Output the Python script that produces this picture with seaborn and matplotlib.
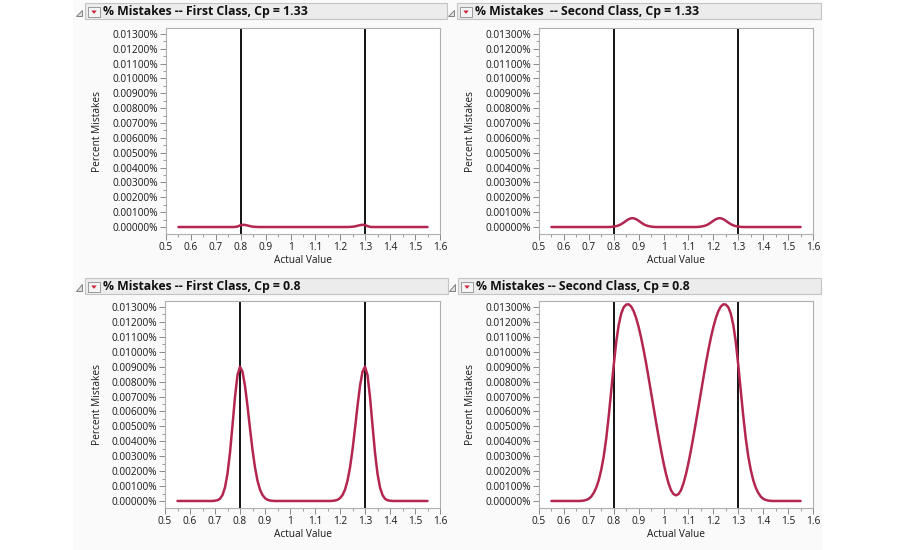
import numpy as np
import pandas as pd
import matplotlib
matplotlib.use("Agg")
import matplotlib.pyplot as plt
from matplotlib.patches import Rectangle, Polygon
from matplotlib.ticker import FuncFormatter, MultipleLocator
import seaborn as sns

# actual value grid, one sample every 0.01
actual_value = np.round(np.linspace(0.55, 1.55, 101), 2)

# percent mistakes, in units of 0.00001 %
first_cp133 = [0] * 10 + [0] * 10 + \
    [0, 0, 0, 1, 5, 13, 15, 13, 9, 5] + \
    [2, 1, 0, 0, 0, 0, 0, 0, 0, 0] + \
    [0] * 10 + [0] * 10 + \
    [0, 0, 0, 0, 0, 0, 0, 0, 0, 1] + \
    [2, 5, 9, 13, 15, 13, 5, 1, 0, 0] + \
    [0] * 10 + [0] * 10 + [0]

second_cp133 = [0] * 10 + [0] * 10 + \
    [0, 0, 0, 0, 1, 3, 6, 11, 19, 30] + \
    [42, 53, 59, 59, 53, 42, 30, 19, 11, 6] + \
    [3, 1, 0, 0, 0, 0, 0, 0, 0, 0] + \
    [0, 0, 0, 0, 0, 0, 0, 0, 0, 1] + \
    [3, 6, 11, 19, 30, 42, 53, 59, 59, 53] + \
    [42, 30, 19, 11, 6, 3, 1, 0, 0, 0] + \
    [0] * 10 + [0] * 10 + [0]

first_cp08 = [0] * 10 + \
    [0, 0, 0, 0, 0, 2, 5, 15, 40, 91] + \
    [183, 324, 507, 697, 844, 900, 866, 771, 636, 486] + \
    [343, 224, 136, 76, 40, 19, 8, 3, 1, 0] + \
    [0] * 10 + [0] * 10 + \
    [0, 0, 1, 3, 8, 19, 40, 76, 136, 224] + \
    [343, 486, 636, 771, 866, 900, 844, 697, 507, 324] + \
    [183, 91, 40, 15, 5, 2, 0, 0, 0, 0] + \
    [0] * 10 + [0]

second_cp08 = [0] * 10 + \
    [0, 0, 1, 3, 7, 15, 30, 55, 90, 140] + \
    [210, 300, 420, 570, 740, 910, 1065, 1180, 1255, 1298] + \
    [1316, 1318, 1303, 1272, 1226, 1166, 1094, 1012, 922, 826] + \
    [727, 627, 528, 432, 340, 255, 180, 118, 72, 46] + \
    [38, 46, 72, 118, 180, 255, 340, 432, 528, 627] + \
    [727, 826, 922, 1012, 1094, 1166, 1226, 1272, 1303, 1318] + \
    [1316, 1298, 1255, 1180, 1065, 910, 740, 570, 420, 300] + \
    [210, 140, 90, 55, 30, 15, 7, 3, 1, 0] + \
    [0] * 10 + [0]

titles = ["% Mistakes -- First Class, Cp = 1.33",
          "% Mistakes  -- Second Class, Cp = 1.33",
          "% Mistakes -- First Class, Cp = 0.8",
          "% Mistakes -- Second Class, Cp = 0.8"]
series = [first_cp133, second_cp133, first_cp08, second_cp08]
spec_limits = [0.8, 1.3]
x_ticks = [0.5, 0.6, 0.7, 0.8, 0.9, 1.0, 1.1, 1.2, 1.3, 1.4, 1.5, 1.6]
x_ticklabels = ["0.5", "0.6", "0.7", "0.8", "0.9", "1", "1.1", "1.2", "1.3", "1.4", "1.5", "1.6"]
y_ticks = [i / 1000 for i in range(14)]

sns.set_style("white")
plt.rcParams["font.family"] = ["Open Sans", "DejaVu Sans"]

W, H = 900, 550
fig = plt.figure(figsize=(9, 5.5), dpi=100)


def fx(px):
    return px / W


def fy(py):
    return 1 - py / H


# faint report background
fig.add_artist(Rectangle((fx(73), 0), fx(822) - fx(73), 1, transform=fig.transFigure,
                         facecolor="#fafafa", edgecolor="none", zorder=-5))

# panel geometry in pixels: header (x0, x1, y0), axes (x0, x1, y0, y1), y label x
panels = [
    ((85, 447, 3), (166, 440, 28, 234), 97),
    ((457, 821, 3), (539, 813, 28, 234), 470),
    ((85, 448, 278), (165, 440, 301, 508), 97),
    ((458, 821, 278), (539, 813, 301, 508), 470),
]

curve_color = "#b3264f"

for (hdr, box, ylab_x), title, vals in zip(panels, titles, series):
    hx0, hx1, hy0 = hdr
    # header bar
    fig.add_artist(Rectangle((fx(hx0), fy(hy0 + 16)), fx(hx1) - fx(hx0), 16 / H,
                             transform=fig.transFigure, facecolor="#ececec",
                             edgecolor="#c4c4c4", lw=0.8))
    # disclosure triangle
    tri = [(fx(hx0 - 9), fy(hy0 + 13)), (fx(hx0 - 3), fy(hy0 + 13)), (fx(hx0 - 3), fy(hy0 + 6.5))]
    fig.add_artist(Polygon(tri, closed=True, transform=fig.transFigure,
                           facecolor="#e0e0e0", edgecolor="#808080", lw=0.7))
    # red menu icon
    fig.add_artist(Rectangle((fx(hx0 + 3), fy(hy0 + 14)), 12 / W, 10 / H,
                             transform=fig.transFigure, facecolor="#f4f4f4",
                             edgecolor="#9a9a9a", lw=0.7))
    red_tri = [(fx(hx0 + 6.3), fy(hy0 + 7.5)), (fx(hx0 + 11.7), fy(hy0 + 7.5)), (fx(hx0 + 9), fy(hy0 + 10.8))]
    fig.add_artist(Polygon(red_tri, closed=True, transform=fig.transFigure,
                           facecolor="#cc2233", edgecolor="none"))
    fig.text(fx(hx0 + 18), fy(hy0 + 8.3), title, fontsize=8.8, fontweight="bold",
             ha="left", va="center", color="#111111")

    ax0, ax1, ay0, ay1 = box
    ax = fig.add_axes([fx(ax0), fy(ay1), fx(ax1) - fx(ax0), (ay1 - ay0) / H])
    df = pd.DataFrame({"Actual Value": actual_value,
                       "Percent Mistakes": np.array(vals) / 100000})
    sns.lineplot(data=df, x="Actual Value", y="Percent Mistakes", ax=ax,
                 color=curve_color, linewidth=1.8, zorder=3)
    for lim in spec_limits:
        ax.axvline(lim, color="black", lw=1.3, zorder=2)

    ax.set_xlim(0.5, 1.6)
    ax.set_ylim(-0.00047, 0.0134)
    ax.set_xticks(x_ticks)
    ax.set_xticklabels(x_ticklabels)
    ax.set_yticks(y_ticks)
    ax.yaxis.set_major_formatter(FuncFormatter(lambda v, p: f"{v:.5f}%"))
    ax.xaxis.set_minor_locator(MultipleLocator(0.05))
    ax.yaxis.set_minor_locator(MultipleLocator(0.0005))
    ax.tick_params(which="major", direction="out", length=4, width=0.7,
                   color="#8a8a8a", labelsize=7.3, labelcolor="#1a1a1a", pad=1.5,
                   bottom=True, left=True)
    ax.tick_params(which="minor", direction="out", length=2, width=0.6,
                   color="#8a8a8a", bottom=True, left=True)
    for s in ax.spines.values():
        s.set_color("#b0b0b0")
        s.set_linewidth(0.8)
    ax.set_facecolor("white")
    ax.set_xlabel("Actual Value", fontsize=7.3, labelpad=1.5, color="#1a1a1a")
    ax.set_ylabel("")
    fig.text(fx(ylab_x), fy((ay0 + ay1) / 2), "Percent Mistakes", rotation=90,
             fontsize=7.3, ha="center", va="center", color="#1a1a1a")

fig.savefig("out.png", dpi=100, facecolor="white")
